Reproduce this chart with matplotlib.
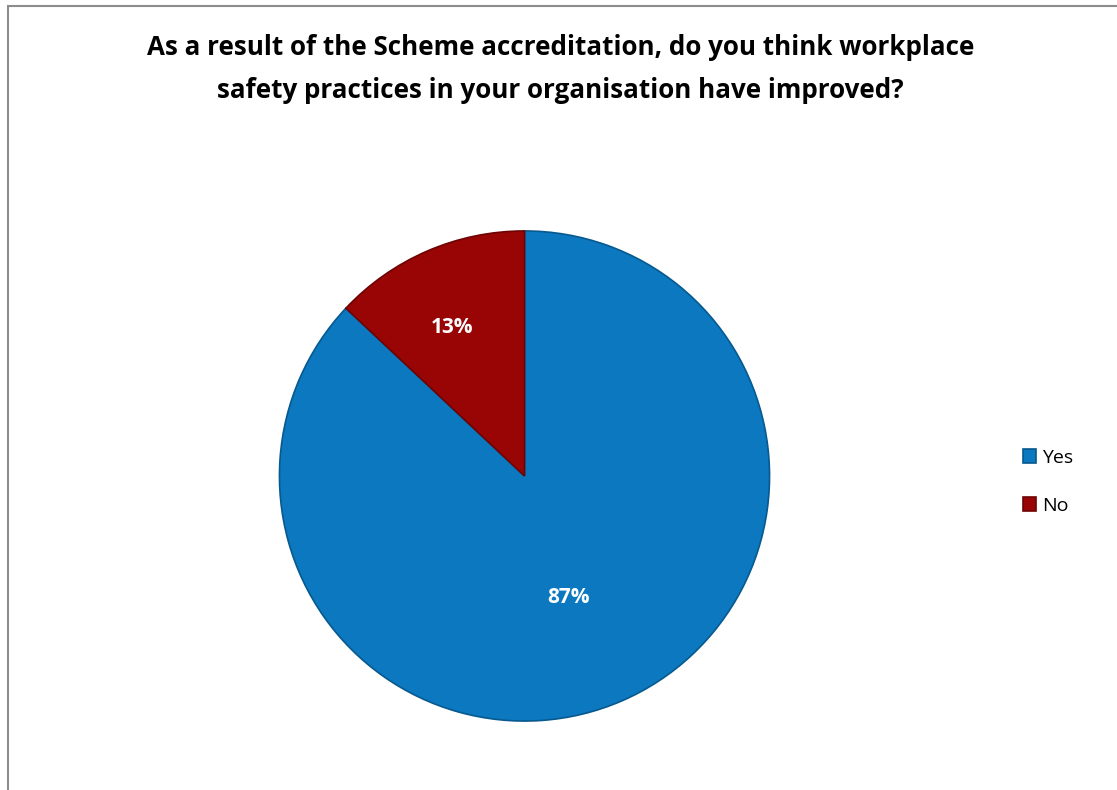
import numpy as np
import matplotlib.pyplot as plt
from matplotlib.patches import Rectangle

labels = ["Yes", "No"]
shares = [87, 13]
colours = ["#0B78BF", "#990505"]
edges = ["#07598F", "#6E0303"]

fig = plt.figure(figsize=(11.17, 7.9), dpi=100)
fig.patch.set_facecolor("white")

# chart frame (runs off the right and bottom edges)
fig.add_artist(Rectangle((8 / 1117, -0.01), 1.02, 1 - 5.5 / 790 + 0.01,
                         transform=fig.transFigure, fill=False,
                         edgecolor="#8C8C8C", linewidth=1.5))

fig.text(0.502, 0.913,
         "As a result of the Scheme accreditation, do you think workplace\n"
         "safety practices in your organisation have improved?",
         ha="center", va="center", fontsize=18.7, fontweight="bold",
         family="Open Sans", linespacing=1.75)

ax = fig.add_axes([(524.5 - 247.5) / 1117, (790 - 476 - 247.5) / 790,
                   495 / 1117, 495 / 790])
wedges, _ = ax.pie(shares, colors=colours, startangle=90, counterclock=False,
                   radius=1, wedgeprops=dict(linewidth=1.2))
for w, e in zip(wedges, edges):
    w.set_edgecolor(e)

# percentage labels
dist = [0.53, 0.67]
for w, v, d in zip(wedges, shares, dist):
    ang = np.deg2rad((w.theta1 + w.theta2) / 2)
    ax.text(d * np.cos(ang) - 0.03, d * np.sin(ang) - 0.01, f"{v}%",
            ha="center", va="center", color="white", fontsize=15,
            fontweight="bold", family="Open Sans")
ax.set_xlim(-1.01, 1.01)
ax.set_ylim(-1.01, 1.01)
ax.set_aspect("equal")

leg = fig.legend(wedges, labels, loc="center left",
                 bbox_to_anchor=(1005 / 1117, 1 - 482 / 790), frameon=False,
                 handlelength=0.7, handleheight=0.7,
                 handletextpad=0.3, labelspacing=1.55,
                 prop=dict(family="Open Sans", size=14))

fig.savefig("out.png", dpi=100, facecolor="white")
